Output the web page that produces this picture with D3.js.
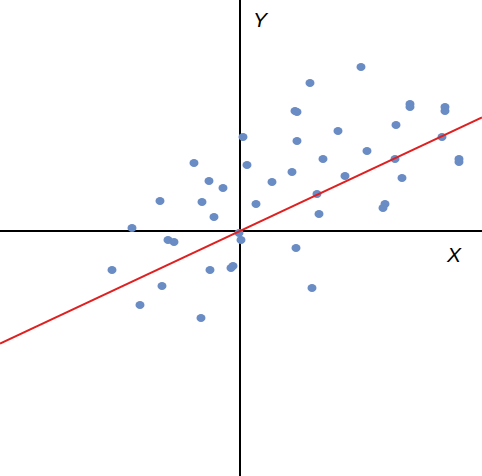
<!DOCTYPE html>
<html><head><meta charset="utf-8">
<script src="https://cdn.jsdelivr.net/npm/d3@7"></script>
<style>body{margin:0;background:#fff}</style>
</head><body>
<svg id="chart" width="482" height="476"></svg>
<script>
// scatter points (x, y)
var xs = [6.05,3.5,2.75,2.85,8.5,8.5,10.25,10.25,0.15,2.85,4.9,7.8,10.1,-2.3,0.35,4.15,6.35,7.75,10.95,10.95,
  -1.55,-0.85,1.6,2.6,5.25,8.1,-4.0,-1.9,-1.3,0.8,3.85,7.25,7.15,3.95,-5.4,-3.6,-3.3,0.05,2.8,-6.4,
  -1.5,-0.45,-0.35,-3.9,-5.0,3.6,-1.95,-0.05];
var ys = [8.2,7.4,6.0,5.95,6.35,6.2,6.2,6.0,4.7,4.5,5.0,5.3,4.7,3.4,3.3,3.6,4.0,3.6,3.6,3.45,
  2.5,2.15,2.45,2.95,2.75,2.65,1.5,1.45,0.7,1.35,1.85,1.35,1.15,0.85,0.15,-0.45,-0.55,-0.45,-0.85,-1.95,
  -1.95,-1.85,-1.75,-2.75,-3.7,-2.85,-4.35,-0.1];
var slope = 0.469;
var lineX = [-12, 12.1];

var svg = d3.select("#chart");
var x = d3.scaleLinear().domain([-12, 12.1]).range([0, 482]);
var y = d3.scaleLinear().domain([11.55, -12.25]).range([0, 476]);

// axes
svg.append("line").attr("x1", 0).attr("x2", 482).attr("y1", y(0)).attr("y2", y(0))
    .attr("stroke", "#000").attr("stroke-width", 2);
svg.append("line").attr("x1", x(0)).attr("x2", x(0)).attr("y1", 0).attr("y2", 476)
    .attr("stroke", "#000").attr("stroke-width", 2);

svg.selectAll("ellipse")
    .data(xs)
    .enter()
    .append("ellipse")
    .attr("cx", function(d) { return x(d); })
    .attr("cy", function(d, i) { return y(ys[i]); })
    .attr("rx", 4.5)
    .attr("ry", 4)
    .attr("fill", "#6a8cc4");

svg.append("line")
    .attr("x1", x(lineX[0])).attr("y1", y(lineX[0] * slope))
    .attr("x2", x(lineX[1])).attr("y2", y(lineX[1] * slope))
    .attr("stroke", "#e02020").attr("stroke-width", 2);

svg.append("text").attr("x", 447).attr("y", 262).text("X")
    .attr("font-family", "Liberation Sans").attr("font-style", "italic").attr("font-size", 21);
svg.append("text").attr("x", 253).attr("y", 27).text("Y")
    .attr("font-family", "Liberation Sans").attr("font-style", "italic").attr("font-size", 21);
</script>
</body></html>
